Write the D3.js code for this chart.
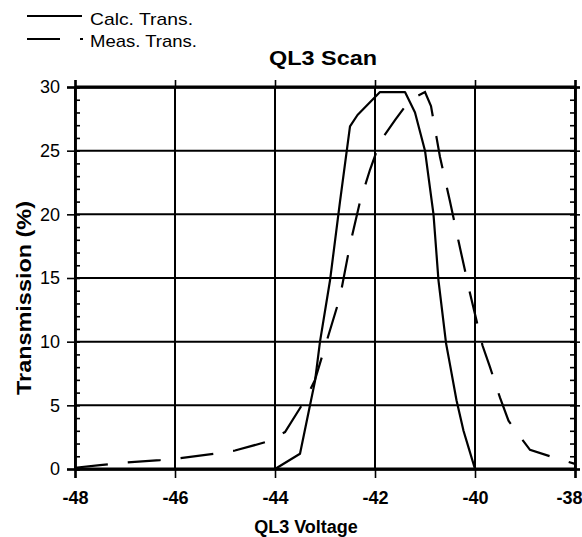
<!DOCTYPE html>
<html><head><meta charset="utf-8">
<script src="https://cdn.jsdelivr.net/npm/d3@7"></script>
<style>body{margin:0;background:#fff}svg{display:block}</style>
</head><body>
<svg id="c" width="582" height="537"></svg>
<script>
const calcV = [-44,-43.5,-43.3,-43.2,-43.1,-42.9,-42.7,-42.5,-42.35,-41.9,-41.4,-41.2,-41.0,-40.83,-40.73,-40.58,-40.5,-40.37,-40.23,-40.13,-40.0];
const calcT = [0,1.2,5,6.9,10,14.8,21,26.9,27.8,29.6,29.6,28,25,20,14.8,9.9,8.2,5.4,3,1.7,0];
const measV = [-48,-47.5,-47,-46.3,-45.9,-45.2,-44.8,-44.2,-43.8,-43.4,-43.2,-43.0,-42.7,-42.5,-42.3,-42.1,-41.9,-41.6,-41.3,-41.0,-40.88,-40.7,-40.5,-40.33,-40.1,-39.85,-39.7,-39.5,-39.33,-39.15,-38.9,-38.5,-38.0];
const measT = [0.1,0.3,0.5,0.7,0.85,1.2,1.45,2.1,2.9,5.4,7,9.6,13.5,17.6,21,23.5,25.7,27.4,29,29.6,28.5,24.5,21,17.9,13.8,9.7,8,5.6,3.8,2.8,1.5,1,0.4];
const xTicks = [-48,-46,-44,-42,-40,-38];
const yTicks = [0,5,10,15,20,25,30];
const yMinor = d3.range(0,31,1);
const legendLabels = ["Calc. Trans.","Meas. Trans."];
const title = "QL3 Scan", xTitle = "QL3 Voltage", yTitle = "Transmission (%)";

const svg = d3.select("#c");
const L=75,R=575,T=87,B=469;
const x = d3.scaleLinear().domain([-48,-38]).range([L,R]);
const y = d3.scaleLinear().domain([0,30]).range([B,T]);
const font = "'Liberation Sans', Arial, sans-serif";

// grid
const g = svg.append("g");
g.selectAll(".vg").data(xTicks).join("line")
  .attr("x1",d=>x(d)).attr("x2",d=>x(d)).attr("y1",T).attr("y2",B)
  .attr("stroke","#000").attr("stroke-width",2);
g.selectAll(".hg").data(yTicks).join("line")
  .attr("x1",L).attr("x2",R).attr("y1",d=>y(d)).attr("y2",d=>y(d))
  .attr("stroke","#000").attr("stroke-width",d=>d===30||d===0?3:2);

// axes
const fmt = d => String(d);
const xa = svg.append("g").attr("transform",`translate(0,${B})`)
  .call(d3.axisBottom(x).tickValues(xTicks).tickFormat(fmt).tickSize(9).tickPadding(13));
const xt = svg.append("g").attr("transform",`translate(0,${T})`)
  .call(d3.axisTop(x).tickValues(xTicks).tickFormat("").tickSize(7));
const ya = svg.append("g").attr("transform",`translate(${L},0)`)
  .call(d3.axisLeft(y).tickValues(yTicks).tickFormat(fmt).tickSize(8).tickPadding(7));
const yl = svg.append("g").attr("transform",`translate(${L},0)`)
  .call(d3.axisRight(y).tickValues(yMinor).tickFormat("").tickSize(5));
const yr = svg.append("g").attr("transform",`translate(${R},0)`)
  .call(d3.axisLeft(y).tickValues(yMinor).tickFormat("").tickSize(5));
const yr2 = svg.append("g").attr("transform",`translate(${R},0)`)
  .call(d3.axisRight(y).tickValues(yTicks).tickFormat("").tickSize(5));
[xa,xt,ya,yl,yr,yr2].forEach(a=>{
  a.select(".domain").attr("stroke","#000").attr("stroke-width",2.5);
  a.selectAll(".tick line").attr("stroke","#000").attr("stroke-width",1.6);
});
xa.selectAll("text").attr("font-family",font).attr("font-size",18).attr("font-weight","bold").attr("fill","#000")
  .attr("text-anchor",d=>d===-38?"end":"middle").attr("dx",d=>d===-38?"7":"0");
ya.selectAll("text").attr("font-family",font).attr("font-size",18).attr("fill","#000");

// lines
const line = d3.line().x(d=>x(d[0])).y(d=>y(d[1]));
svg.append("path").datum(calcV.map((v,i)=>[v,calcT[i]])).attr("d",line)
  .attr("fill","none").attr("stroke","#000").attr("stroke-width",2.2).attr("stroke-linejoin","round");
svg.append("path").datum(measV.map((v,i)=>[v,measT[i]])).attr("d",line)
  .attr("fill","none").attr("stroke","#000").attr("stroke-width",2.2).attr("stroke-dasharray","33,20");

// titles
svg.append("text").attr("x",323).attr("y",65).attr("text-anchor","middle")
  .attr("font-family",font).attr("font-size",21).attr("font-weight","bold")
  .attr("textLength",108).attr("lengthAdjust","spacingAndGlyphs").text(title);
svg.append("text").attr("x",306).attr("y",533).attr("text-anchor","middle")
  .attr("font-family",font).attr("font-size",18).attr("font-weight","bold").text(xTitle);
svg.append("text").attr("transform","translate(31,298) rotate(-90)").attr("text-anchor","middle")
  .attr("font-family",font).attr("font-size",20).attr("font-weight","bold")
  .attr("textLength",194).attr("lengthAdjust","spacingAndGlyphs").text(yTitle);

// legend
const lg = svg.append("g");
lg.append("line").attr("x1",27).attr("x2",82).attr("y1",16).attr("y2",16).attr("stroke","#000").attr("stroke-width",2);
lg.append("line").attr("x1",27).attr("x2",60).attr("y1",39).attr("y2",39).attr("stroke","#000").attr("stroke-width",2);
lg.append("line").attr("x1",80).attr("x2",83).attr("y1",39).attr("y2",39).attr("stroke","#000").attr("stroke-width",2);
lg.selectAll("text").data(legendLabels).join("text")
  .attr("x",90).attr("y",(d,i)=>25+i*22)
  .attr("font-family",font).attr("font-size",17)
  .attr("textLength",(d,i)=>i?107:103).attr("lengthAdjust","spacingAndGlyphs").text(d=>d);
</script>
</body></html>
